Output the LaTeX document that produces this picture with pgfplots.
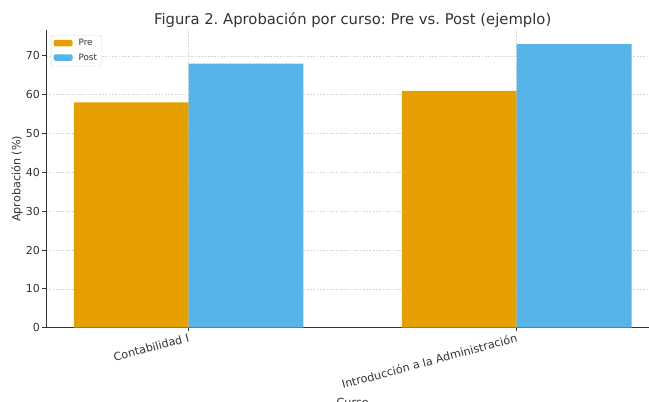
\documentclass[border=0pt]{standalone}
\usepackage{pgfplots}
\pgfplotsset{compat=1.18}
\usepackage{fontspec}
\setmainfont{DejaVu Sans}
\definecolor{preC}{HTML}{E69F00}
\definecolor{postC}{HTML}{56B4E9}
\definecolor{txt}{HTML}{333333}
\pgfplotsset{
  layers/mylayers/.define layer set={axis background,axis grid,pre main,main,axis ticks,axis lines,axis tick labels,axis descriptions,axis foreground}{},
}
\frenchspacing
\begin{document}
\frenchspacing
\begin{tikzpicture}[x=1pt,y=1pt]
\begin{axis}[
  set layers=mylayers,
  at={(0,0)}, anchor=south west,
  scale only axis, width=613.4pt, height=297.7pt,
  xmin=-0.435, xmax=1.435, ymin=0, ymax=76.65,
  axis x line*=bottom, axis y line*=left,
  axis line style={black!80, line width=0.8pt},
  xtick={0,1},
  xticklabels={Contabilidad I, Introducción a la Administración},
  ytick={0,10,...,70},
  tick style={black!80, line width=0.8pt},
  major tick length=3.5pt, tick align=outside,
  grid=major,
  grid style={dash pattern=on 1.8pt off 1.5pt, black!16, line width=0.5pt},
  /pgf/number format/assume math mode=true,
  ticklabel style={font=\fontsize{11}{13}\selectfont, text=txt},
  xticklabel style={rotate=15, anchor=north east, inner sep=1.5pt, font=\fontsize{11.2}{13}\selectfont},
  yticklabel style={inner sep=2.5pt},
  title={Figura 2. Aprobación por curso: Pre vs. Post (ejemplo)},
  title style={at={(0.5,1)}, anchor=base, yshift=-1pt, font=\fontsize{14.8}{17}\selectfont, text=txt},
  xlabel={Curso},
  ylabel={Aprobación (\%)},
  label style={font=\fontsize{11.2}{13}\selectfont, text=txt},
  xlabel style={yshift=-4pt},
  ylabel style={yshift=-3pt},
  legend style={at={(0.008,0.983)}, anchor=north west, draw=black!15, rounded corners=2pt,
    fill=white, font=\fontsize{8.8}{10}\selectfont, text=txt, inner xsep=2.5pt, inner ysep=2.2pt,
    row sep=2.5pt},
  legend cell align=left,
]
\addplot[ybar, bar width=0.35, bar shift=0pt, fill=preC, draw=none,
  legend image code/.code={\fill[preC] (0pt,-3pt) rectangle (19pt,3.5pt); \path (0pt,0pt) -- (23pt,0pt);}]
  coordinates {(-0.175,58) (0.825,61)};
\addlegendentry{Pre}
\addplot[ybar, bar width=0.35, bar shift=0pt, fill=postC, draw=none,
  legend image code/.code={\fill[postC] (0pt,-3pt) rectangle (19pt,3.5pt); \path (0pt,0pt) -- (23pt,0pt);}]
  coordinates {(0.175,68) (1.175,73)};
\addlegendentry{Post}
\end{axis}
\pgfresetboundingbox
\useasboundingbox (-46,-74.3) rectangle (603,327.7);
\end{tikzpicture}
\end{document}
